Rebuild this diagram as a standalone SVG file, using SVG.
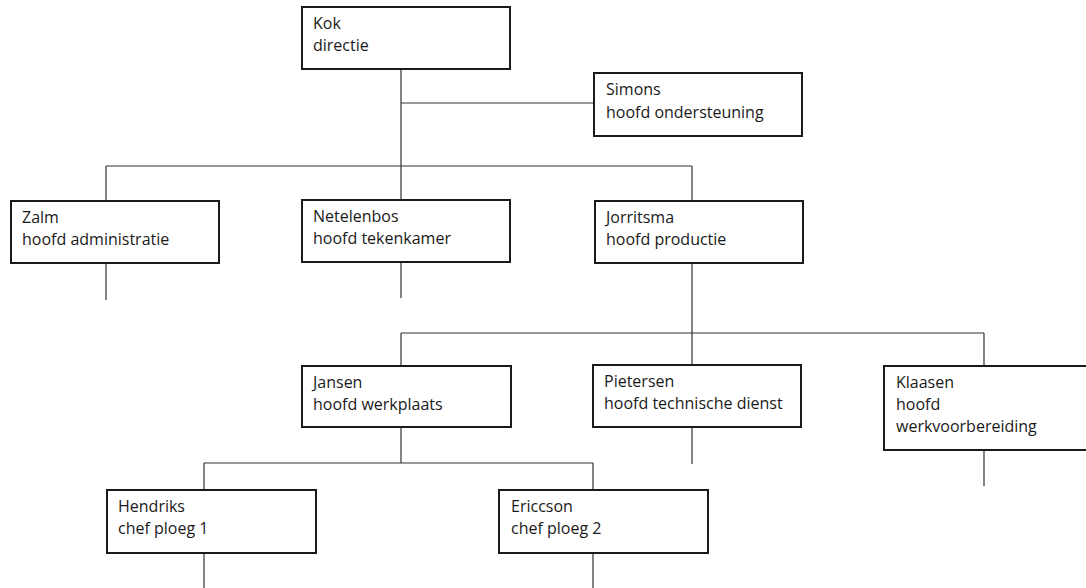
<svg xmlns="http://www.w3.org/2000/svg" width="1086" height="588" viewBox="0 0 1086 588">
<style>
.box{fill:#fff;stroke:#1a1a1a;stroke-width:2}
.t{font-family:"Open Sans","Liberation Sans",sans-serif;font-size:16px;fill:#1a1a1a}
.c{stroke:#333;stroke-width:1.2;fill:none}
</style>
<rect width="1086" height="588" fill="#fff"/>
<g id="connectors">
<path class="c" d="M401 69V200M401 103H594M106 166H692M106 166V201M692 166V201"/>
<path class="c" d="M106 263V300M401 262V298"/>
<path class="c" d="M692 263V365M401 333H984M401 333V366M984 333V366"/>
<path class="c" d="M692 427V464M984 450V486"/>
<path class="c" d="M401 427V463M204 463H593M204 463V490M593 463V490"/>
<path class="c" d="M204 553V588M593 553V588"/>
</g>
<g id="kok"><rect class="box" x="302" y="7" width="208" height="62"/><text class="t" x="313" y="29">Kok</text><text class="t" x="313" y="51">directie</text></g>
<g id="simons"><rect class="box" x="594" y="73" width="208" height="63"/><text class="t" x="606" y="95">Simons</text><text class="t" x="606" y="118">hoofd ondersteuning</text></g>
<g id="zalm"><rect class="box" x="11" y="201" width="208" height="62"/><text class="t" x="22" y="223">Zalm</text><text class="t" x="22" y="245">hoofd administratie</text></g>
<g id="netelenbos"><rect class="box" x="302" y="200" width="208" height="62"/><text class="t" x="313" y="222">Netelenbos</text><text class="t" x="313" y="244">hoofd tekenkamer</text></g>
<g id="jorritsma"><rect class="box" x="595" y="201" width="208" height="62"/><text class="t" x="606" y="223">Jorritsma</text><text class="t" x="606" y="245">hoofd productie</text></g>
<g id="jansen"><rect class="box" x="302" y="366" width="209" height="61"/><text class="t" x="313" y="388">Jansen</text><text class="t" x="313" y="410">hoofd werkplaats</text></g>
<g id="pietersen"><rect class="box" x="593" y="365" width="208" height="62"/><text class="t" x="604" y="387">Pietersen</text><text class="t" x="604" y="409">hoofd technische dienst</text></g>
<g id="klaasen"><rect class="box" x="884" y="366" width="210" height="84"/><text class="t" x="896" y="388">Klaasen</text><text class="t" x="896" y="410">hoofd</text><text class="t" x="896" y="432">werkvoorbereiding</text></g>
<g id="hendriks"><rect class="box" x="107" y="490" width="209" height="63"/><text class="t" x="118" y="512">Hendriks</text><text class="t" x="118" y="534">chef ploeg 1</text></g>
<g id="ericcson"><rect class="box" x="499" y="490" width="209" height="63"/><text class="t" x="511" y="512">Ericcson</text><text class="t" x="511" y="534">chef ploeg 2</text></g>
</svg>
